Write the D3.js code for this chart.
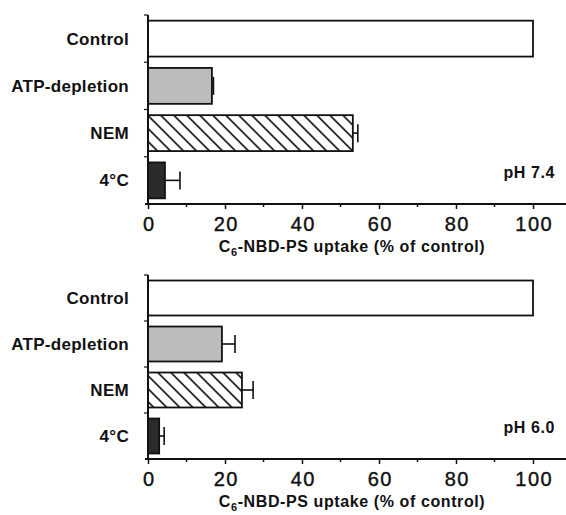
<!DOCTYPE html>
<html>
<head>
<meta charset="utf-8">
<script src="https://cdn.jsdelivr.net/npm/d3@7"></script>
<style>
  body { margin: 0; background: #fff; }
  svg { display: block; }
  text { font-family: "Liberation Sans", Arial, Helvetica, sans-serif; fill: #111; }
</style>
</head>
<body>
<div id="chart"></div>
<script>
// data
const categories = ["Control", "ATP-depletion", "NEM", "4°C"];
const uptakePH74 = [100, 16.6, 53.2, 4.4];
const errorPH74 = [0, 0.4, 1.3, 3.9];
const uptakePH60 = [100, 19.2, 24.4, 2.9];
const errorPH60 = [0, 3.4, 2.9, 1.3];
const panelLabels = ["pH 7.4", "pH 6.0"];
const xTicks = [0, 20, 40, 60, 80, 100];
const xMinorTicks = [10, 30, 50, 70, 90];

const width = 566, height = 515;

const svg = d3.select("#chart").append("svg")
    .attr("width", width)
    .attr("height", height);

// fills
const defs = svg.append("defs");
defs.append("pattern")
    .attr("id", "hatch")
    .attr("patternUnits", "userSpaceOnUse")
    .attr("width", 9.2)
    .attr("height", 9.2)
    .attr("patternTransform", "rotate(-45)")
    .append("line")
    .attr("x1", 4.6).attr("y1", 0)
    .attr("x2", 4.6).attr("y2", 9.2)
    .attr("stroke", "#111")
    .attr("stroke-width", 1.6);

const fills = ["#ffffff", "#bcbcbc", "url(#hatch)", "#2b2b2b"];

const x = d3.scaleLinear()
    .domain([0, 100])
    .range([148, 533]);

function drawPanel(values, errors, label, top, bottom) {
    const g = svg.append("g");

    const y = d3.scaleBand()
        .domain(categories)
        .range([top, bottom])
        .paddingInner(0.24)
        .paddingOuter(0.12);

    const rows = categories.map((c, i) => ({ name: c, value: values[i], err: errors[i], fill: fills[i] }));

    // bars
    g.selectAll(".bar")
        .data(rows)
        .enter().append("rect")
        .attr("class", "bar")
        .attr("x", x(0))
        .attr("y", d => y(d.name))
        .attr("width", d => x(d.value) - x(0))
        .attr("height", y.bandwidth())
        .attr("fill", d => d.fill)
        .attr("stroke", "#111")
        .attr("stroke-width", 1.8);

    // error bars
    const errRows = rows.filter(d => d.err > 0);
    g.selectAll(".err")
        .data(errRows)
        .enter().append("line")
        .attr("x1", d => x(d.value))
        .attr("x2", d => x(d.value + d.err))
        .attr("y1", d => y(d.name) + y.bandwidth() / 2)
        .attr("y2", d => y(d.name) + y.bandwidth() / 2)
        .attr("stroke", "#111")
        .attr("stroke-width", 1.6);

    g.selectAll(".cap")
        .data(errRows)
        .enter().append("line")
        .attr("x1", d => x(d.value + d.err))
        .attr("x2", d => x(d.value + d.err))
        .attr("y1", d => y(d.name) + y.bandwidth() / 2 - 9)
        .attr("y2", d => y(d.name) + y.bandwidth() / 2 + 9)
        .attr("stroke", "#111")
        .attr("stroke-width", 1.6);

    // y axis line + ticks at band boundaries
    g.append("line")
        .attr("x1", x(0)).attr("x2", x(0))
        .attr("y1", top).attr("y2", bottom)
        .attr("stroke", "#111")
        .attr("stroke-width", 2);

    const step = y.step();
    const bounds = categories.map((c, i) => top + i * step);
    g.selectAll(".ytick")
        .data(bounds)
        .enter().append("line")
        .attr("x1", x(0) - 4).attr("x2", x(0))
        .attr("y1", d => d).attr("y2", d => d)
        .attr("stroke", "#111")
        .attr("stroke-width", 1.2);

    // category labels
    g.selectAll(".cat")
        .data(rows)
        .enter().append("text")
        .attr("x", x(0) - 19)
        .attr("y", d => y(d.name) + y.bandwidth() / 2)
        .attr("dy", "0.36em")
        .attr("text-anchor", "end")
        .style("font-size", "17px")
        .style("font-weight", "bold")
        .style("letter-spacing", "0.3px")
        .text(d => d.name);

    // x axis
    const xAxis = d3.axisBottom(x)
        .tickValues(xTicks)
        .tickSize(5)
        .tickPadding(8)
        .tickFormat(d3.format("d"));

    const ax = g.append("g")
        .attr("transform", "translate(0," + bottom + ")")
        .call(xAxis);

    ax.select(".domain").remove();
    ax.selectAll(".tick line").attr("stroke", "#111").attr("stroke-width", 1.5);
    ax.selectAll(".tick text")
        .style("font-size", "20px")
        .style("letter-spacing", "1.5px")
        .attr("fill", "#111")
        .attr("stroke", "#111")
        .attr("stroke-width", 0.4)
        .attr("dx", "0.75px");

    ax.append("line")
        .attr("x1", x(0) - 3).attr("x2", width)
        .attr("y1", 0).attr("y2", 0)
        .attr("stroke", "#111")
        .attr("stroke-width", 2);

    ax.selectAll(".minor")
        .data(xMinorTicks)
        .enter().append("line")
        .attr("x1", d => x(d)).attr("x2", d => x(d))
        .attr("y1", 0).attr("y2", 3)
        .attr("stroke", "#111")
        .attr("stroke-width", 1.5);

    // axis title with subscript
    const title = g.append("text")
        .attr("x", x(53))
        .attr("y", bottom + 48)
        .attr("text-anchor", "middle")
        .style("font-size", "16px")
        .style("font-weight", "bold")
        .style("letter-spacing", "0.6px");
    title.append("tspan").text("C");
    title.append("tspan").attr("dy", 4).style("font-size", "11px").text("6");
    title.append("tspan").attr("dy", -4).text("-NBD-PS uptake (% of control)");

    // panel label
    g.append("text")
        .attr("x", 555)
        .attr("y", bottom - 32)
        .attr("dy", "0.36em")
        .attr("text-anchor", "end")
        .style("font-size", "16px")
        .style("font-weight", "bold")
        .style("letter-spacing", "0.6px")
        .text(label);
}

drawPanel(uptakePH74, errorPH74, panelLabels[0], 15, 204);
drawPanel(uptakePH60, errorPH60, panelLabels[1], 275, 459);
</script>
</body>
</html>
